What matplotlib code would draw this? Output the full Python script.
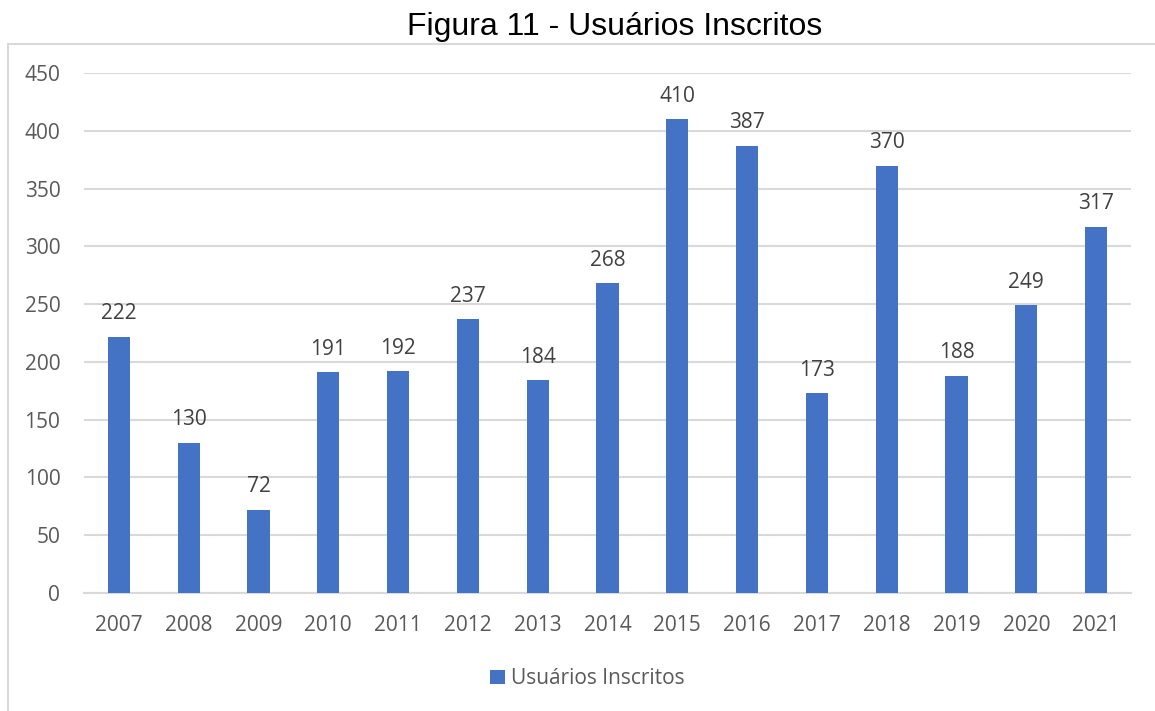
import matplotlib.pyplot as plt
from matplotlib.patches import Rectangle

# data
years = ['2007', '2008', '2009', '2010', '2011', '2012', '2013', '2014',
         '2015', '2016', '2017', '2018', '2019', '2020', '2021']
inscritos = [222, 130, 72, 191, 192, 237, 184, 268, 410, 387, 173, 370, 188, 249, 317]
y_ticks = [0, 50, 100, 150, 200, 250, 300, 350, 400, 450]

bar_color = '#4472C4'
text_gray = '#595959'
grid_gray = '#D9D9D9'

fig = plt.figure(figsize=(11.55, 7.11), dpi=100)
ax = fig.add_axes([0.0727, 0.166, 0.9065, 0.731])

# chart border (Excel style frame)
fig.patches.append(Rectangle((8 / 1155, -0.1), 1.2, 1 - 44 / 711 + 0.1,
                             transform=fig.transFigure, fill=False,
                             edgecolor=grid_gray, linewidth=1.5))

x = list(range(len(years)))
bars = ax.bar(x, inscritos, width=0.32, color=bar_color, zorder=3,
              label='Usuários Inscritos')

for xi, v in zip(x, inscritos):
    ax.annotate(str(v), (xi, v), xytext=(0, 9), textcoords='offset points',
                ha='center', va='bottom', fontsize=15, color='#404040',
                family='Open Sans')

ax.set_xlim(-0.5, len(years) - 0.5)
ax.set_ylim(0, 450)
ax.set_yticks(y_ticks)
ax.set_xticks(x)
ax.set_xticklabels(years)
ax.yaxis.grid(True, color=grid_gray, linewidth=1.5, zorder=0)
ax.set_axisbelow(True)
for s in ['top', 'right', 'left']:
    ax.spines[s].set_visible(False)
ax.spines['bottom'].set_color(grid_gray)
ax.spines['bottom'].set_linewidth(1.5)
ax.tick_params(axis='both', length=0, labelsize=15, labelcolor=text_gray)
ax.tick_params(axis='y', pad=17)
ax.tick_params(axis='x', pad=16)
for lbl in ax.get_xticklabels() + ax.get_yticklabels():
    lbl.set_family('Open Sans')

fig.text(0.532, 0.962, 'Figura 11 - Usuários Inscritos', ha='center', va='center',
         fontsize=23, family='Liberation Sans', color='black')

leg = ax.legend(loc='center', bbox_to_anchor=(0.481, -0.165), frameon=False,
                handlelength=0.7, handleheight=0.7, handletextpad=0.3,
                prop={'family': 'Open Sans', 'size': 15})
for t in leg.get_texts():
    t.set_color(text_gray)

fig.savefig('out.png', dpi=100)
